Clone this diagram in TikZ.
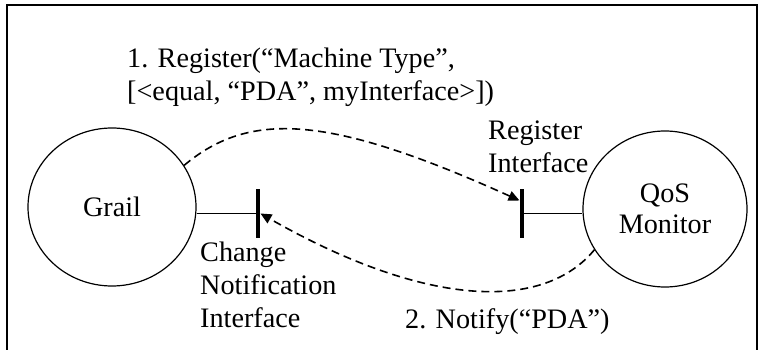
\documentclass[tikz,border=0pt]{standalone}
\usepackage{fontspec}
\setmainfont{Liberation Serif}
\usetikzlibrary{shapes.geometric,arrows.meta,calc}
\begin{document}
\begin{tikzpicture}[x=1pt,y=-1pt,
  txt/.style={font=\fontsize{28.2}{33}\selectfont,inner sep=0pt,align=left},
  bubble/.style={draw,ellipse,line width=1.2pt,inner sep=0pt,
    font=\fontsize{28.2}{31.5}\selectfont,align=center},
  socket/.style={fill=black,minimum width=4.6pt,minimum height=49pt,inner sep=0pt},
  wire/.style={line width=1.2pt},
  msg/.style={line width=1.6pt,dash pattern=on 8pt off 5pt,
    -{Triangle[length=11pt,width=10pt]}}]
\useasboundingbox (0,0) rectangle (761,350);
% outer frame (bottom edge lies below the page)
\draw[line width=1.5pt] (7,352) -- (7,5) -- (757,5) -- (757,352);

% components
\node[bubble,minimum width=168pt,minimum height=158pt] (grail) at (112,207) {Grail};
\node[bubble,minimum width=164pt,minimum height=156pt] (qos) at (665,209) {QoS\\Monitor};

% interface sockets
\node[socket] (chbar) at (258,213.5) {};
\node[socket] (regbar) at (522,213.5) {};
\draw[wire] (grail.east |- chbar.center) -- (chbar.center);
\draw[wire] (regbar.center) -- (qos.west |- regbar.center);

% messages
\draw[msg] (grail.30) .. controls (250,110) and (330,115) .. ([yshift=13pt]regbar.west);
\draw[msg] (qos.210) .. controls (545,310) and (430,310) .. (chbar.east);

% labels (anchored at the baseline of the last line)
\node[txt,anchor=base west] (reglbl) at (127,101) {1. Register(“Machine Type”,\\{}[<equal, “PDA”, myInterface>])};
\node[txt,anchor=base west] (regif) at (488,173) {Register\\Interface};
\node[txt,anchor=base west] (chif) at (200,327) {Change\\Notification\\Interface};
\node[txt,anchor=base west] (notlbl) at (405,328) {2. Notify(“PDA”)};
\end{tikzpicture}
\end{document}
